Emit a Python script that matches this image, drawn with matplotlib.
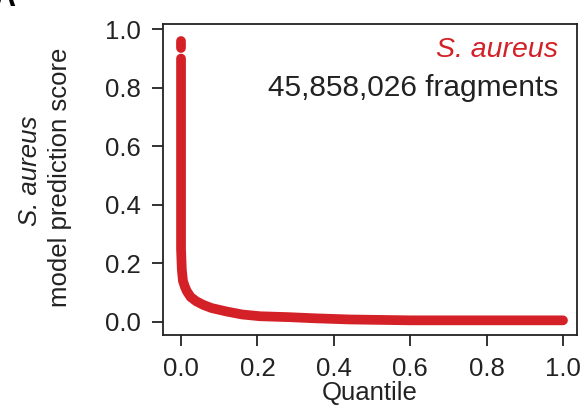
import numpy as np
import matplotlib.pyplot as plt

plt.rcParams['font.family'] = ['Liberation Sans', 'DejaVu Sans']

# sorted model scores vs quantile
quantile = [0.0, 0.0, 0.002, 0.005, 0.01, 0.015, 0.025, 0.04, 0.058, 0.08,
            0.12, 0.16, 0.207, 0.28, 0.35, 0.44, 0.6, 0.8, 1.0]
score = [0.90, 0.25, 0.18, 0.14, 0.12, 0.105, 0.085, 0.07, 0.058, 0.047,
         0.035, 0.025, 0.019, 0.016, 0.012, 0.008, 0.005, 0.005, 0.005]
# the few top scoring fragments, separated by a small gap
top_q = [0.0, 0.0]
top_s = [0.935, 0.96]

xticks = [0.0, 0.2, 0.4, 0.6, 0.8, 1.0]
yticks = [0.0, 0.2, 0.4, 0.6, 0.8, 1.0]

red = '#d42027'

fig = plt.figure(figsize=(5.88, 4.11), dpi=100)
ax = fig.add_axes([0.2767, 0.185, 0.7045, 0.7566])

ax.plot(quantile, score, color=red, lw=7, solid_capstyle='round', solid_joinstyle='round')
ax.plot(top_q, top_s, color=red, lw=7, solid_capstyle='round')

ax.set_xlim(-0.048, 1.0365)
ax.set_ylim(-0.045, 1.018)
ax.set_xticks(xticks)
ax.set_yticks(yticks)
ax.set_xticklabels([f'{t:.1f}' for t in xticks])
ax.set_yticklabels([f'{t:.1f}' for t in yticks])
ax.tick_params(direction='out', length=8, width=1.3, labelsize=18.5, pad=8, colors='#222222')
ax.tick_params(axis='x', pad=8)
for s in ax.spines.values():
    s.set_linewidth(1.3)
    s.set_color('#222222')

ax.set_xlabel('Quantile', fontsize=18.5, labelpad=0, color='#222222')

fig.text(30 / 588, 1 - 171 / 411, 'S. aureus', rotation=90, style='italic',
         fontsize=18.5, ha='center', va='center', color='#222222')
fig.text(60 / 588, 1 - 177 / 411, 'model prediction score', rotation=90,
         fontsize=18.5, ha='center', va='center', color='#222222')

ax.text(0.955, 0.915, 'S. aureus', transform=ax.transAxes, color=red,
        style='italic', fontsize=20.5, ha='right', va='center')
ax.text(0.955, 0.795, '45,858,026 fragments', transform=ax.transAxes,
        color='#222222', fontsize=21.5, ha='right', va='center')

fig.text(-0.012, 1.005, 'A', fontsize=22, fontweight='bold', ha='left', va='center')

fig.savefig('out.png', dpi=100)
